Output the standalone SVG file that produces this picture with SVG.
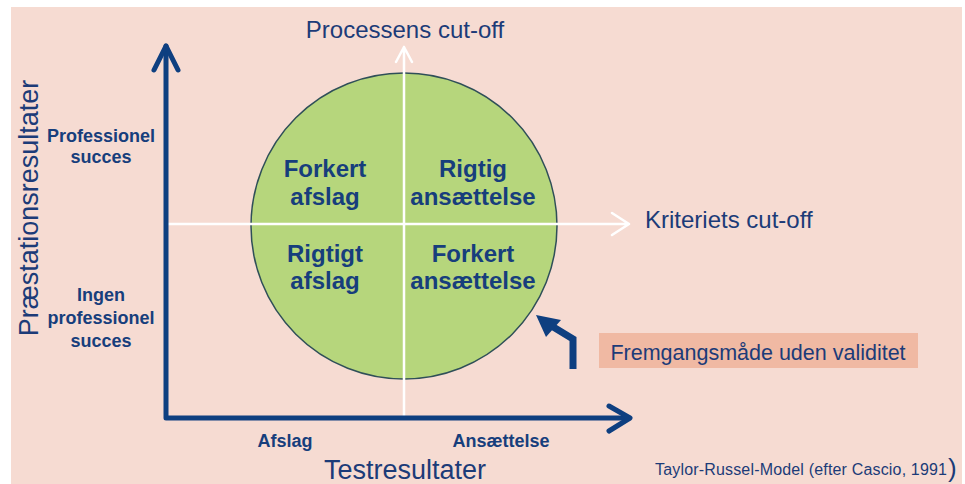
<svg xmlns="http://www.w3.org/2000/svg" width="965" height="484" viewBox="0 0 965 484">
<style>
.t{font-family:"Liberation Sans",Arial,sans-serif;fill:#1c3b78}
.b{font-family:"Liberation Sans",Arial,sans-serif;font-weight:bold;fill:#173e7c}
.axis{stroke:#0e3f80;stroke-width:5;fill:none;stroke-linecap:round;stroke-linejoin:round}
.wl{stroke:#ffffff;stroke-width:2.5;fill:none;stroke-linecap:round;stroke-linejoin:round}
</style>
<rect x="0" y="0" width="965" height="484" fill="#ffffff"/>
<rect x="11" y="7" width="951" height="477" fill="#f6dbd2"/>
<g id="circle">
<circle cx="404" cy="226" r="153" fill="#b6d67c" stroke="#2f4f58" stroke-width="1.5"/>
</g>
<g id="connectors">
<path class="wl" d="M167 224 H629 M612 213 L629 224 L612 235"/>
<path class="wl" d="M404 417 V47 M396 62 L404 47 L412 62"/>
<path class="axis" d="M166 46 V418 H629"/>
<path class="axis" d="M154 70 L166 46 L178 70"/>
<path class="axis" d="M609 406 L630 418 L609 431"/>
<path d="M573 369 V339 L550 325" stroke="#0e3f80" stroke-width="7" fill="none" stroke-linejoin="miter"/>
<polygon points="536,315 561,320 546,337" fill="#0e3f80"/>
</g>
<g id="labels">
<text class="t" x="405" y="38" font-size="24" text-anchor="middle">Processens cut-off</text>
<text class="t" x="645" y="228" font-size="24">Kriteriets cut-off</text>
<text class="t" x="405" y="479" font-size="27" text-anchor="middle">Testresultater</text>
<text class="t" font-size="27" text-anchor="middle" transform="translate(38 208) rotate(-90)">Præstationsresultater</text>
</g>
<g id="y-labels" class="b" font-size="18" text-anchor="middle">
<text class="b" x="101" y="142">Professionel</text>
<text class="b" x="101" y="163">succes</text>
<text class="b" x="101" y="301">Ingen</text>
<text class="b" x="101" y="324">professionel</text>
<text class="b" x="101" y="347">succes</text>
</g>
<g id="x-labels" font-size="18" text-anchor="middle">
<text class="b" x="285" y="447">Afslag</text>
<text class="b" x="501" y="447">Ansættelse</text>
</g>
<g id="q1" font-size="24" text-anchor="middle">
<text class="b" x="325" y="177">Forkert</text>
<text class="b" x="325" y="205">afslag</text>
</g>
<g id="q2" font-size="24" text-anchor="middle">
<text class="b" x="473" y="177">Rigtig</text>
<text class="b" x="473" y="205">ansættelse</text>
</g>
<g id="q3" font-size="24" text-anchor="middle">
<text class="b" x="325" y="262">Rigtigt</text>
<text class="b" x="325" y="289">afslag</text>
</g>
<g id="q4" font-size="24" text-anchor="middle">
<text class="b" x="473" y="262">Forkert</text>
<text class="b" x="473" y="289">ansættelse</text>
</g>
<g id="note">
<rect x="599" y="333" width="319" height="35" fill="#f0b9a3"/>
<text class="t" x="758" y="360" font-size="21.5" text-anchor="middle">Fremgangsmåde uden validitet</text>
</g>
<g id="source">
<text class="t" x="655" y="475" font-size="16" textLength="292">Taylor-Russel-Model (efter Cascio, 1991</text>
<text class="t" x="948" y="477" font-size="26">)</text>
</g>
</svg>
